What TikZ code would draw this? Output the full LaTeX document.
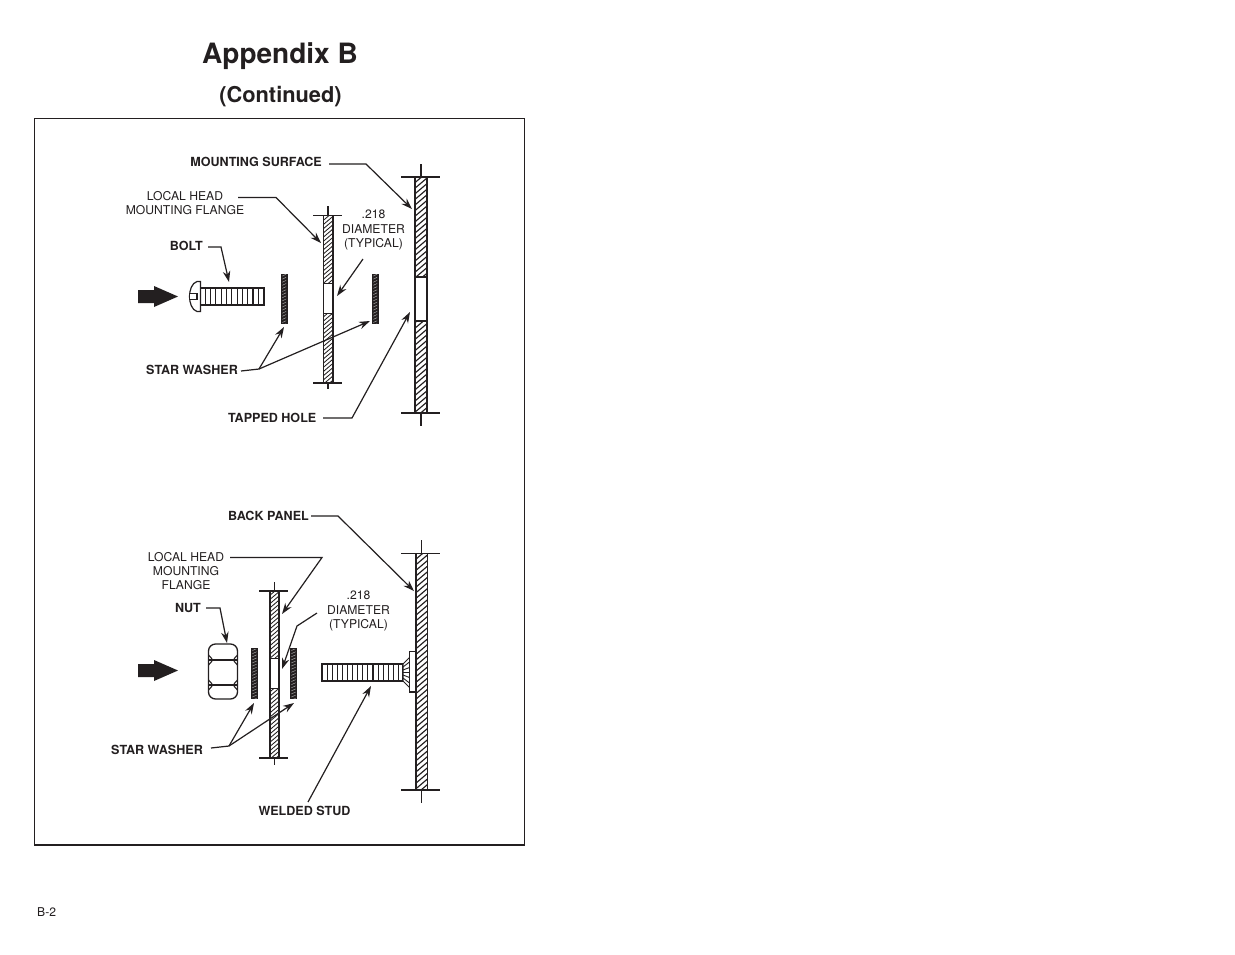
\documentclass[tikz,border=0pt]{standalone}
\usepackage{fontspec}
\setmainfont{TeX Gyre Heros}
\usetikzlibrary{arrows.meta}
\definecolor{ink}{HTML}{231F20}
\tikzset{
  lab/.style={inner sep=0pt,align=center,text=ink,font=\fontsize{12.15}{14.2}\selectfont},
  blab/.style={lab,font=\fontsize{12.55}{14.2}\selectfont\bfseries},
  leader/.style={draw=ink,line width=1.2pt,-{Stealth[length=11pt,width=7.5pt]}},
  leaderplain/.style={draw=ink,line width=1.2pt},
  edge/.style={draw=ink,line width=1.4pt},
  tick/.style={draw=ink,line width=1.2pt},
  hole/.style={draw=ink,line width=1.4pt,fill=white}
}
% hatched bar: x1,y1,x2,y2,step,line width
\newcommand{\hatchbar}[6]{%
  \begin{scope}
    \clip (#1,#2) rectangle (#3,#4);
    \foreach \k in {0,...,70}{
      \pgfmathsetmacro{\hy}{#2+\k*#5}
      \draw[ink,line width=#6] (#1,\hy) -- (#3,\hy-0.85*#3+0.85*#1);
    }
  \end{scope}
  \draw[edge] (#1,#2) -- (#1,#4) (#3,#2) -- (#3,#4);
}
% star washer: x1,y1,x2,y2
\newcommand{\starwasher}[4]{%
  \fill[ink] (#1,#2) rectangle (#3,#4);
  \begin{scope}
    \clip (#1+1.4,#2+1) rectangle (#3-1.4,#4-1);
    \foreach \k in {0,...,17}{
      \pgfmathsetmacro{\hy}{#2+\k*3.1}
      \draw[gray!70,line width=.5pt] (#1,\hy) -- (#3,\hy-3);
    }
  \end{scope}
}
% threaded shaft: x1,y1,x2,y2,step
\newcommand{\threads}[5]{%
  \draw[ink,line width=1.2pt,fill=white] (#1,#2) rectangle (#3,#4);
  \pgfmathsetmacro{\hstart}{#1+#5}
  \pgfmathsetmacro{\hnext}{#1+2*#5}
  \pgfmathsetmacro{\hend}{#3-1}
  \foreach \hx in {\hstart,\hnext,...,\hend}
    \draw[ink,line width=1.1pt] (\hx,#2) -- (\hx,#4);
}
% travel arrow: y centre
\newcommand{\bigarrow}[1]{%
  \fill[ink] (138,#1-6.5) -- (154,#1-6.5) -- (154,#1-10.5) -- (178,#1) -- (154,#1+10.5) -- (154,#1+6.5) -- (138,#1+6.5) -- cycle;
}
\begin{document}
\begin{tikzpicture}[x=1pt,y=-1pt]
\useasboundingbox (0,0) rectangle (1235,954);
\fill[white] (0,0) rectangle (1235,954);

\node[text=ink,font=\fontsize{28}{30}\selectfont\bfseries] (title) at (280,56) {Appendix B};
\node[text=ink,font=\fontsize{21.8}{24}\selectfont\bfseries] (sub) at (280.5,96.5) {(Continued)};
\node[draw=ink,line width=1.2pt,outer sep=0pt,minimum width=489.5pt,minimum height=726.5pt,inner sep=0pt,anchor=north west] (frame) at (34.8,118.4) {};
\node[lab,anchor=west] (page) at (37,912.5) {B-2};

% ---------- upper figure ----------
\hatchbar{415}{177}{427}{413}{5.6}{1.15pt}
\draw[hole] (415,277) rectangle (427,321);
\draw[tick] (401,177) -- (440,177) (421,164) -- (421,177);
\draw[tick] (401,413) -- (440,413) (421,413) -- (421,426);

\hatchbar{323.5}{216}{333}{383}{4.2}{.85pt}
\draw[hole] (323.5,283.5) rectangle (333,313.5);
\draw[tick] (313,215.5) -- (342,215.5) (328,206) -- (328,215.5);
\draw[tick] (313,383) -- (342,383) (328,383) -- (328,389);

\starwasher{281}{273.5}{287.5}{324}
\starwasher{372}{273.5}{378.5}{324}

\threads{200}{288}{264}{305}{5.3}
\draw[ink,line width=1.2pt,fill=white] (200.5,281.5) -- (197,281.5) .. controls (192,283) and (189.5,290) .. (189.5,296.5) .. controls (189.5,303) and (192,310) .. (197,311.5) -- (200.5,311.5) -- cycle;
\draw[ink,line width=1.1pt,fill=white] (189.5,293.5) -- (197,293.5) -- (197,299.5) -- (189.5,299.5);
\bigarrow{296.5}

\node[blab,anchor=east] (ms) at (322,161.5) {MOUNTING SURFACE};
\node[lab] (lh) at (185,203) {LOCAL HEAD\\MOUNTING FLANGE};
\node[blab,anchor=east] (bolt) at (203,245.5) {BOLT};
\node[lab] (dia) at (373.5,230) {.218\\DIAMETER\\(TYPICAL)};
\node[blab,anchor=east] (sw) at (238,369.5) {STAR WASHER};
\node[blab,anchor=east] (th) at (316.5,417.5) {TAPPED HOLE};

\coordinate (msA) at (329,164); \coordinate (msB) at (366,164); \coordinate (msC) at (412,209);
\coordinate (lhA) at (238,197.5); \coordinate (lhB) at (276,197.5); \coordinate (lhC) at (321,243);
\coordinate (boA) at (208,247); \coordinate (boB) at (221,247); \coordinate (boC) at (229,282);
\coordinate (diA) at (363,259); \coordinate (diC) at (337,296);
\coordinate (swA) at (241,371); \coordinate (swB) at (259,369); \coordinate (swC) at (284,327); \coordinate (swD) at (370,321);
\coordinate (thA) at (323,418); \coordinate (thB) at (352,418); \coordinate (thC) at (410,312);

\draw[leader] (msA) -- (msB) -- (msC);
\draw[leader] (lhA) -- (lhB) -- (lhC);
\draw[leader] (boA) -- (boB) -- (boC);
\draw[leader] (diA) -- (diC);
\draw[leaderplain] (swA) -- (swB);
\draw[leader] (swB) -- (swC);
\draw[leader] (swB) -- (swD);
\draw[leader] (thA) -- (thB) -- (thC);

% ---------- lower figure ----------
\hatchbar{416}{553.5}{427.5}{790}{5.6}{1.15pt}
\draw[tick] (401,553.5) -- (440,553.5) (421.5,540) -- (421.5,553.5);
\draw[tick] (401,790) -- (440,790) (421.5,790) -- (421.5,803);

\hatchbar{270}{591}{279}{758}{4.2}{.85pt}
\draw[hole] (270,658.5) rectangle (279,688.5);
\draw[tick] (259,591) -- (288,591) (274.5,582) -- (274.5,591);
\draw[tick] (259,758) -- (288,758) (274.5,758) -- (274.5,765);

\starwasher{251}{648}{258}{699}
\starwasher{290}{648}{297}{699}

% nut
\draw[ink,line width=1.3pt,fill=white,rounded corners=7pt] (208.5,644) rectangle (237.5,699);
\draw[ink,line width=1.3pt] (208.5,660) -- (237.5,660) (208.5,685) -- (237.5,685);
\draw[ink,line width=1.1pt]
  (208.5,655) .. controls (210,657) and (212,658) .. (212.5,660) .. controls (212,662) and (210,663) .. (208.5,665)
  (237.5,655) .. controls (236,657) and (234,658) .. (233.5,660) .. controls (234,662) and (236,663) .. (237.5,665)
  (208.5,680) .. controls (210,682) and (212,683) .. (212.5,685) .. controls (212,687) and (210,688) .. (208.5,690)
  (237.5,680) .. controls (236,682) and (234,683) .. (233.5,685) .. controls (234,687) and (236,688) .. (237.5,690);
\bigarrow{670.5}

% welded stud
\threads{322}{664}{403}{681}{5.1}
\draw[ink,line width=1pt,fill=white] (403,664) -- (409.5,657.5) -- (409.5,687.5) -- (403,681) -- cycle;
\draw[ink,line width=.9pt] (403,667) -- (409.5,662) (403,670) -- (409.5,667.5) (403,672.5) -- (409.5,672.5) (403,675) -- (409.5,677.5) (403,678) -- (409.5,683);
\draw[hole] (409.5,651.5) rectangle (415.5,692);

\node[blab,anchor=east] (bp) at (309,515.5) {BACK PANEL};
\node[lab] (lh2) at (186,571) {LOCAL HEAD\\MOUNTING\\FLANGE};
\node[blab,anchor=east] (nut) at (201,607.5) {NUT};
\node[lab] (dia2) at (358.5,611) {.218\\DIAMETER\\(TYPICAL)};
\node[blab,anchor=east] (sw2) at (203,749.5) {STAR WASHER};
\node[blab] (ws) at (304.5,810.5) {WELDED STUD};

\coordinate (bpA) at (311,516); \coordinate (bpB) at (338,516); \coordinate (bpC) at (414,591);
\coordinate (l2A) at (230,557.5); \coordinate (l2B) at (322,557.5); \coordinate (l2C) at (282,614);
\coordinate (nuA) at (206,608); \coordinate (nuB) at (220,608); \coordinate (nuC) at (227,643);
\coordinate (d2A) at (317,613); \coordinate (d2B) at (297,626); \coordinate (d2C) at (282,669);
\coordinate (s2A) at (211,748); \coordinate (s2B) at (229,746); \coordinate (s2C) at (254,703); \coordinate (s2D) at (294,703);
\coordinate (wsA) at (308,802); \coordinate (wsC) at (371,686);

\draw[leader] (bpA) -- (bpB) -- (bpC);
\draw[leader] (l2A) -- (l2B) -- (l2C);
\draw[leader] (nuA) -- (nuB) -- (nuC);
\draw[leader] (d2A) -- (d2B) -- (d2C);
\draw[leaderplain] (s2A) -- (s2B);
\draw[leader] (s2B) -- (s2C);
\draw[leader] (s2B) -- (s2D);
\draw[leader] (wsA) -- (wsC);
\end{tikzpicture}
\end{document}
